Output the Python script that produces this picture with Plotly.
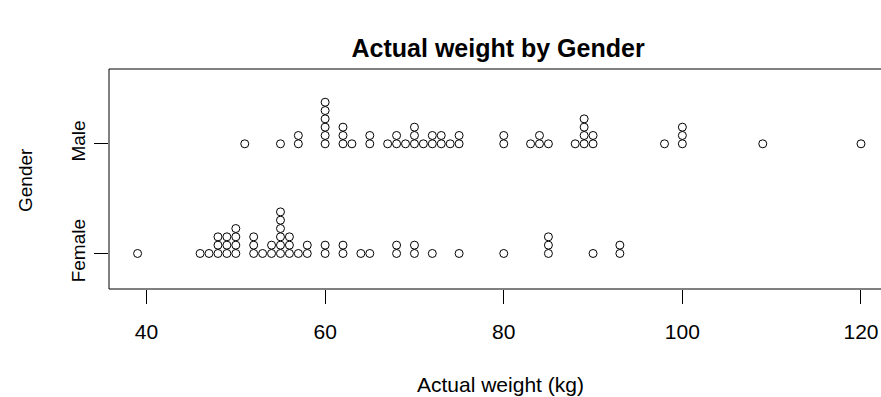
import plotly.graph_objects as go
from collections import Counter

# Data (kg)
male_weights = [51, 55, 57, 57, 60, 60, 60, 60, 60, 60, 62, 62, 62, 63, 65, 65,
                67, 68, 68, 69, 70, 70, 70, 71, 72, 72, 73, 73, 74, 75, 75,
                80, 80, 83, 84, 84, 85, 88, 89, 89, 89, 89, 90, 90, 98,
                100, 100, 100, 109, 120]
female_weights = [39, 46, 47, 48, 48, 48, 49, 49, 49, 50, 50, 50, 50, 52, 52, 52,
                  53, 54, 54, 55, 55, 55, 55, 55, 55, 56, 56, 56, 57, 58, 58,
                  60, 60, 62, 62, 64, 65, 68, 68, 70, 70, 72, 75, 80,
                  85, 85, 85, 90, 93, 93]
groups = ["Female", "Male"]
x_ticks = [40, 60, 80, 100, 120]

STEP = 0.0758  # stack offset in y-units


def stacked(values, base):
    seen = Counter()
    xs, ys = [], []
    for v in values:
        xs.append(v)
        ys.append(base + seen[v] * STEP)
        seen[v] += 1
    return xs, ys


fig = go.Figure()
for i, (name, vals) in enumerate(zip(groups, [female_weights, male_weights]), start=1):
    xs, ys = stacked(vals, i)
    fig.add_trace(go.Scatter(
        x=xs, y=ys, mode="markers", name=name, showlegend=False,
        marker=dict(symbol="circle-open", size=8, color="black", line=dict(width=1, color="black")),
        hoverinfo="x+name",
    ))

FONT = "Liberation Sans, Arial, sans-serif"
W, H = 881, 397
L, T, B = 109, 69, 108
PW, PH = W - L, H - T - B

fig.update_layout(
    width=W, height=H,
    margin=dict(l=L, r=0, t=T, b=B, pad=0),
    paper_bgcolor="white", plot_bgcolor="white",
    font=dict(family=FONT, size=21, color="black"),
    title=dict(text="<b>Actual weight by Gender</b>", xref="paper", x=0.504, xanchor="center",
               yref="container", y=1 - 48 / H, yanchor="middle",
               font=dict(family=FONT, size=25, color="black")),
    xaxis=dict(range=[35.8, 122.24], tickvals=x_ticks, ticks="outside", ticklen=14,
               tickcolor="black", tickwidth=1, showgrid=False, zeroline=False, showline=False,
               ticklabelstandoff=10, tickfont=dict(size=21), ticklabeloverflow="allow"),
    yaxis=dict(range=[0.676, 2.682], tickvals=[1, 2], ticktext=groups, tickangle=-90,
               ticks="outside", ticklen=14, tickcolor="black", tickwidth=1,
               showgrid=False, zeroline=False, showline=False,
               ticklabelstandoff=1, tickfont=dict(size=19)),
    shapes=[
        dict(type="line", xref="paper", yref="paper", x0=0, x1=0, y0=0, y1=1, line=dict(color="black", width=1)),
        dict(type="line", xref="paper", yref="paper", x0=0, x1=1, y0=1, y1=1, line=dict(color="black", width=1)),
        dict(type="line", xref="paper", yref="paper", x0=0, x1=1, y0=0, y1=0, line=dict(color="black", width=1)),
    ],
    annotations=[
        dict(text="Actual weight (kg)", xref="paper", x=(500 - L) / PW, yref="paper",
             y=-(384 - (T + PH)) / PH, xanchor="center", yanchor="middle", showarrow=False,
             font=dict(family=FONT, size=21, color="black")),
        dict(text="Gender", xref="paper", x=-(L - 25) / PW, yref="paper",
             y=(T + PH - 180) / PH, xanchor="center", yanchor="middle", textangle=-90,
             showarrow=False, font=dict(family=FONT, size=19, color="black")),
    ],
)

# remove the default 8px page margin so the figure fills the 881x397 window exactly
fig.write_html("out.html", config={"displayModeBar": False},
               post_script="document.body.style.margin='0';")
